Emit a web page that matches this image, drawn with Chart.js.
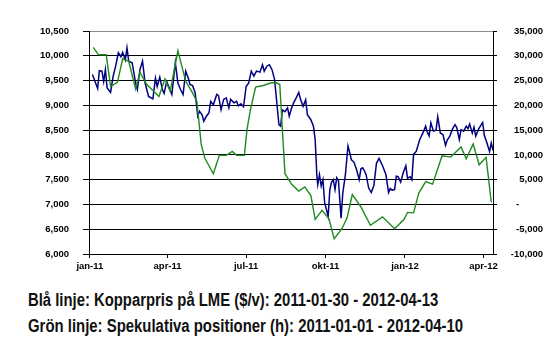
<!DOCTYPE html>
<html lang="sv">
<head>
  <meta charset="UTF-8">
  <title>Kopparpris och spekulativa positioner</title>
  <script src="https://cdn.jsdelivr.net/npm/chart.js"></script>
  <style>
    body { margin: 0; background: #fff; }
    #wrap { position: relative; width: 543px; height: 354px; }
    .cap {
      position: absolute; left: 28px; white-space: nowrap;
      font-family: "Liberation Sans Narrow", "Liberation Sans", Arial, sans-serif;
      font-weight: bold; font-size: 18px; line-height: 22px; color: #111;
      transform-origin: 0 0;
    }
  </style>
</head>
<body>
  <div id="wrap">
    <canvas id="kopparChart" width="543" height="280"></canvas>
    <div class="cap" id="cap1" style="top:289px">Blå linje: Kopparpris på LME ($/v): 2011-01-30 - 2012-04-13</div>
    <div class="cap" id="cap2" style="top:315px">Grön linje: Spekulativa positioner (h): 2011-01-01 - 2012-04-10</div>
  </div>

  <script>
    // x = dagar sedan 2011-01-01
    const tickDays = [0, 90, 181, 273, 365, 456];
    const tickLabels = ['jan-11', 'apr-11', 'jul-11', 'okt-11', 'jan-12', 'apr-12'];

    // Blå linje: kopparpris ($/t), vänster axel
    const blueDays = [3, 9, 11, 14, 16, 18, 20, 24, 27, 30, 33, 36, 38, 41, 43, 45, 49, 53, 55, 58,
      61, 64, 68, 73, 76, 78, 81, 84, 86, 89, 92, 95, 99, 102, 105, 108, 111, 114, 116, 119,
      122, 125, 127, 130, 132, 135, 138, 140, 143, 147, 149, 152, 155, 158, 161, 163, 167, 170, 172, 175,
      178, 181, 184, 187, 190, 193, 197, 200, 202, 205, 208, 211, 214, 219, 221, 223, 226, 229, 231, 233,
      236, 239, 242, 244, 247, 250, 252, 256, 259, 261, 263, 264, 266, 268, 270, 272, 274, 276, 278, 280,
      282, 284, 286, 288, 291, 293, 296, 299, 301, 303, 306, 309, 312, 314, 316, 318, 320, 323, 326, 329,
      332, 335, 337, 340, 343, 346, 348, 350, 353, 355, 357, 360, 363, 366, 368, 371, 373, 375, 378, 382,
      384, 386, 389, 391, 393, 395, 398, 401, 403, 406, 409, 412, 414, 417, 420, 423, 425, 428, 430, 433,
      436, 438, 440, 443, 445, 447, 450, 452, 455, 457, 460, 463, 465, 467];
    const bluePrice = [9620, 9340, 9700, 9690, 9480, 9720, 9350, 9260, 9590, 9800, 10060, 9980, 10070, 9920, 10160, 9890, 9860, 9450, 9320, 9720,
      9890, 9450, 9180, 9130, 9550, 9380, 9570, 9320, 9240, 9480, 9350, 9220, 9860, 9450, 9320, 9220, 9690, 9550, 9420, 9400,
      9250, 8780, 8880, 8810, 8680, 8780, 8850, 9080, 9010, 9220, 9200, 8910, 9120, 9150, 8950, 9120, 9050, 9080, 8990, 9030,
      8970, 9380, 9450, 9690, 9590, 9690, 9670, 9820, 9690, 9790, 9820, 9720, 9520, 8610, 8580, 8910, 8870, 8950, 8780, 8910,
      9050, 9150, 9260, 9120, 8980, 9110, 8810, 8710, 8580, 8310, 7570, 7400, 7600, 7370, 7500, 7030, 6900, 6760, 7300, 7450,
      7500, 7300, 7540, 7480, 6720, 7230, 7600, 8180, 8050, 7900, 7850, 7700, 7500, 7720, 7740, 7680, 7600, 7330, 7240, 7380,
      7830, 7930, 7860, 7740, 7600, 7240, 7320, 7290, 7300, 7570, 7560, 7450, 7640, 7780, 7530, 7560, 7500, 8010, 8070, 8300,
      8380, 8450, 8580, 8450, 8380, 8650, 8480, 8500, 8770, 8440, 8410, 8190, 8300, 8380, 8520, 8610, 8550, 8310, 8510, 8480,
      8580, 8530, 8620, 8440, 8560, 8380, 8510, 8570, 8650, 8390, 8240, 8070, 8240, 8090];

    // Grön linje: spekulativa positioner, höger axel
    const greenDays = [4, 10, 19, 24, 32, 38, 45, 53, 58, 66, 80, 87, 93, 102, 111, 118, 124, 129, 133, 143,
      150, 158, 165, 170, 179, 182, 186, 192, 201, 209, 215, 220, 226, 234, 242, 249, 256, 261, 269, 277,
      283, 292, 298, 304, 314, 325, 339, 353, 364, 368, 375, 381, 389, 397, 408, 418, 430, 436, 444, 451,
      459, 465];
    const greenPos = [31700, 30200, 30200, 23800, 24700, 29400, 28900, 23300, 26650, 24200, 21800, 25300, 22800, 31000, 24850, 22800, 20800, 12100, 9400, 6200,
      9900, 9900, 10700, 9900, 9900, 15100, 19100, 23700, 24000, 24500, 24600, 24200, 6200, 4000, 2700, 3550, 1800, -3000, -1200, -2900,
      -6900, -4900, -2700, 2000, -500, -4200, -2500, -4900, -3000, -1600, -1700, 2300, 4600, 4100, 9800, 9550, 11600, 9200, 12200, 8000,
      9500, 450];

    const yLeft = { min: 6000, max: 10500, step: 500 };
    const yRight = { min: -10000, max: 35000, step: 5000 };

    function fmt(v) {
      return v.toLocaleString('en-US');
    }

    const tickFont = { family: 'Liberation Sans, Arial, sans-serif', size: 9.5, weight: 'bold' };

    const ctx = document.getElementById('kopparChart').getContext('2d');
    new Chart(ctx, {
      type: 'line',
      data: {
        datasets: [{
          label: 'Kopparpris',
          data: blueDays.map((d, i) => ({ x: d, y: bluePrice[i] })),
          yAxisID: 'y',
          borderColor: '#000080',
          borderWidth: 1.5,
          pointRadius: 0,
          tension: 0,
          order: 1
        }, {
          label: 'Spekulativa positioner',
          data: greenDays.map((d, i) => ({ x: d, y: greenPos[i] })),
          yAxisID: 'y2',
          borderColor: '#1f8a1f',
          borderWidth: 1.4,
          pointRadius: 0,
          tension: 0,
          order: 0
        }]
      },
      options: {
        responsive: false,
        animation: false,
        layout: { padding: { top: 31, left: 0, right: 0, bottom: 0 } },
        plugins: { legend: { display: false }, tooltip: { enabled: false } },
        scales: {
          x: {
            type: 'linear',
            min: -1,
            max: 467,
            afterBuildTicks: (s) => { s.ticks = tickDays.map(v => ({ value: v })); },
            afterFit: (s) => { s.height = 26; },
            ticks: {
              autoSkip: false,
              maxRotation: 0,
              color: '#000',
              font: tickFont,
              padding: 3,
              callback: (v) => tickLabels[tickDays.indexOf(v)]
            },
            grid: { drawOnChartArea: false, drawTicks: true, tickLength: 4, color: '#000' },
            border: { color: '#000', width: 1 }
          },
          y: {
            position: 'left',
            min: yLeft.min,
            max: yLeft.max,
            afterFit: (s) => { s.width = 89; },
            ticks: { stepSize: yLeft.step, color: '#000', font: tickFont, padding: 14, callback: (v) => fmt(v) },
            grid: {
              drawTicks: true,
              tickLength: 6,
              tickColor: '#000',
              color: (c) => (c.tick && c.tick.value === yLeft.max ? '#8c8c8c' : '#000'),
              lineWidth: 1
            },
            border: { color: '#000', width: 1 }
          },
          y2: {
            position: 'right',
            min: yRight.min,
            max: yRight.max,
            afterFit: (s) => { s.width = 50; },
            ticks: {
              stepSize: yRight.step,
              color: '#000',
              font: tickFont,
              padding: 4,
              crossAlign: 'far',
              callback: (v) => (v === 0 ? '-         ' : fmt(v))
            },
            grid: { drawOnChartArea: false, drawTicks: true, tickLength: 4, color: '#000' },
            border: { color: '#000', width: 1 }
          }
        }
      }
    });

    // bildtexten är smal i originalet
    [['cap1', 410], ['cap2', 435]].forEach(([id, w]) => {
      const el = document.getElementById(id);
      el.style.transform = 'scaleX(' + (w / el.offsetWidth) + ')';
    });
  </script>
</body>
</html>
